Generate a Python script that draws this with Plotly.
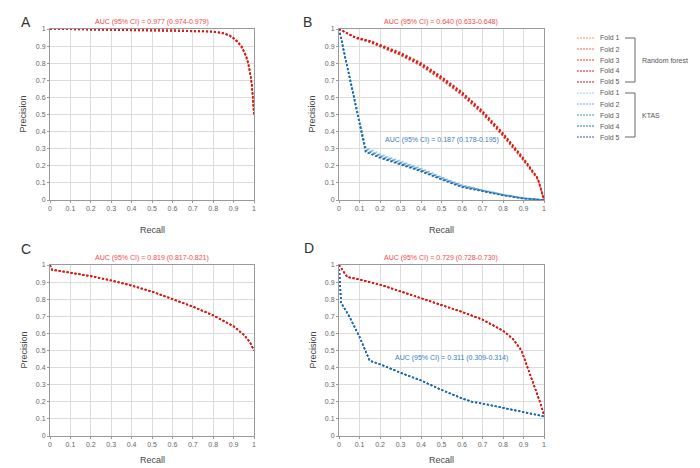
import plotly.graph_objects as go

# The page body has an 8px default margin; the figure is sized/offset to fit the 700x468 window.
OFF = 8
W, H = 700 - OFF, 468 - OFF
FONT = "Liberation Sans, Arial, sans-serif"

# ---------------- data ----------------
FOLD_LABELS = ["Fold 1", "Fold 2", "Fold 3", "Fold 4", "Fold 5"]
GROUP_LABELS = ["Random forest", "KTAS"]
RF_COLORS = ["#fc9272", "#fb6a4a", "#f03b20", "#e31a1c", "#d7191c"]
KTAS_COLORS = ["#9ecae1", "#6baed6", "#4292c6", "#2b72b8", "#2166ac"]

PANEL_LETTERS = ["A", "B", "C", "D"]
RF_AUC_TEXT = ["AUC (95% CI) = 0.977 (0.974-0.979)",
               "AUC (95% CI) = 0.640 (0.633-0.648)",
               "AUC (95% CI) = 0.819 (0.817-0.821)",
               "AUC (95% CI) = 0.729 (0.728-0.730)"]
KTAS_AUC_TEXT = [None, "AUC (95% CI) = 0.187 (0.178-0.195)",
                 None, "AUC (95% CI) = 0.311 (0.309-0.314)"]
X_TITLE = "Recall"
Y_TITLE = "Precision"

A_RF_RECALL = [0, 0.1, 0.2, 0.3, 0.4, 0.5, 0.6, 0.7, 0.75, 0.8, 0.85, 0.88, 0.9, 0.92, 0.94, 0.96, 0.97, 0.98, 0.99, 0.995, 1.0]
A_RF_PREC = [
    [1, 0.998, 0.997, 0.996, 0.995, 0.994, 0.993, 0.991, 0.989, 0.985, 0.975, 0.962, 0.946, 0.925, 0.895, 0.845, 0.805, 0.750, 0.670, 0.600, 0.5],
    [1, 0.998, 0.997, 0.996, 0.995, 0.994, 0.992, 0.990, 0.988, 0.984, 0.973, 0.960, 0.943, 0.921, 0.890, 0.840, 0.800, 0.745, 0.665, 0.595, 0.5],
    [1, 0.998, 0.997, 0.996, 0.995, 0.994, 0.993, 0.991, 0.989, 0.986, 0.977, 0.964, 0.948, 0.928, 0.899, 0.850, 0.810, 0.755, 0.675, 0.605, 0.5],
    [1, 0.998, 0.997, 0.996, 0.995, 0.993, 0.992, 0.990, 0.988, 0.984, 0.974, 0.961, 0.944, 0.923, 0.892, 0.842, 0.802, 0.748, 0.668, 0.598, 0.5],
    [1, 0.998, 0.997, 0.996, 0.995, 0.994, 0.993, 0.991, 0.989, 0.985, 0.976, 0.963, 0.947, 0.926, 0.897, 0.848, 0.807, 0.752, 0.672, 0.602, 0.5],
]

B_RF_RECALL = [0, 0.08, 0.15, 0.2, 0.3, 0.4, 0.5, 0.6, 0.7, 0.8, 0.9, 0.97, 1.0]
B_RF_PREC = [
    [1, 0.950, 0.928, 0.905, 0.855, 0.795, 0.715, 0.625, 0.515, 0.385, 0.240, 0.125, 0.0],
    [1, 0.947, 0.922, 0.898, 0.846, 0.784, 0.703, 0.612, 0.503, 0.373, 0.230, 0.118, 0.0],
    [1, 0.952, 0.932, 0.910, 0.862, 0.802, 0.722, 0.632, 0.522, 0.392, 0.246, 0.128, 0.0],
    [1, 0.948, 0.925, 0.901, 0.850, 0.789, 0.708, 0.618, 0.508, 0.378, 0.234, 0.121, 0.0],
    [1, 0.951, 0.930, 0.907, 0.858, 0.798, 0.718, 0.628, 0.518, 0.388, 0.242, 0.126, 0.0],
]
B_KTAS_RECALL = [0, 0.13, 0.2, 0.3, 0.4, 0.5, 0.6, 0.7, 0.8, 0.9, 1.0]
B_KTAS_PREC = [
    [1, 0.310, 0.270, 0.228, 0.186, 0.135, 0.088, 0.060, 0.033, 0.012, 0.0],
    [1, 0.300, 0.262, 0.221, 0.180, 0.130, 0.084, 0.057, 0.031, 0.011, 0.0],
    [1, 0.292, 0.256, 0.216, 0.175, 0.126, 0.081, 0.055, 0.030, 0.010, 0.0],
    [1, 0.285, 0.250, 0.211, 0.171, 0.122, 0.078, 0.053, 0.028, 0.009, 0.0],
    [1, 0.280, 0.246, 0.207, 0.167, 0.119, 0.075, 0.051, 0.027, 0.008, 0.0],
]

C_RF_RECALL = [0, 0.01, 0.05, 0.1, 0.2, 0.3, 0.4, 0.5, 0.6, 0.7, 0.8, 0.9, 0.95, 0.98, 1.0]
C_RF_PREC = [
    [1, 0.972, 0.965, 0.955, 0.935, 0.910, 0.880, 0.845, 0.802, 0.757, 0.706, 0.642, 0.592, 0.550, 0.5],
    [1, 0.970, 0.964, 0.954, 0.933, 0.908, 0.878, 0.843, 0.800, 0.755, 0.704, 0.640, 0.590, 0.548, 0.5],
    [1, 0.973, 0.966, 0.956, 0.936, 0.911, 0.881, 0.846, 0.803, 0.758, 0.707, 0.643, 0.593, 0.551, 0.5],
    [1, 0.971, 0.965, 0.955, 0.934, 0.909, 0.879, 0.844, 0.801, 0.756, 0.705, 0.641, 0.591, 0.549, 0.5],
    [1, 0.972, 0.965, 0.955, 0.935, 0.910, 0.880, 0.845, 0.802, 0.757, 0.706, 0.642, 0.592, 0.550, 0.5],
]

D_RF_RECALL = [0, 0.04, 0.1, 0.2, 0.3, 0.4, 0.5, 0.6, 0.7, 0.8, 0.85, 0.89, 0.92, 0.95, 0.98, 1.0]
D_RF_PREC = [
    [1, 0.930, 0.915, 0.885, 0.846, 0.806, 0.766, 0.726, 0.681, 0.616, 0.566, 0.500, 0.400, 0.300, 0.200, 0.120],
    [1, 0.929, 0.914, 0.884, 0.845, 0.805, 0.765, 0.725, 0.680, 0.615, 0.565, 0.499, 0.399, 0.299, 0.199, 0.119],
    [1, 0.931, 0.916, 0.886, 0.847, 0.807, 0.767, 0.727, 0.682, 0.617, 0.567, 0.501, 0.401, 0.301, 0.201, 0.121],
    [1, 0.930, 0.915, 0.885, 0.845, 0.805, 0.765, 0.725, 0.680, 0.615, 0.565, 0.500, 0.400, 0.300, 0.200, 0.120],
    [1, 0.930, 0.915, 0.885, 0.846, 0.806, 0.766, 0.726, 0.681, 0.616, 0.566, 0.500, 0.400, 0.300, 0.200, 0.120],
]
D_KTAS_RECALL = [0, 0.005, 0.01, 0.05, 0.1, 0.15, 0.2, 0.3, 0.4, 0.5, 0.6, 0.65, 0.7, 0.8, 0.9, 1.0]
D_KTAS_PREC = [
    [1, 0.850, 0.782, 0.700, 0.582, 0.442, 0.421, 0.371, 0.326, 0.271, 0.221, 0.201, 0.191, 0.166, 0.141, 0.116],
    [1, 0.848, 0.780, 0.698, 0.580, 0.440, 0.420, 0.370, 0.325, 0.270, 0.220, 0.200, 0.190, 0.165, 0.140, 0.115],
    [1, 0.850, 0.780, 0.700, 0.580, 0.440, 0.420, 0.370, 0.325, 0.270, 0.220, 0.200, 0.190, 0.165, 0.140, 0.115],
    [1, 0.852, 0.779, 0.699, 0.579, 0.439, 0.419, 0.369, 0.324, 0.269, 0.219, 0.199, 0.189, 0.164, 0.139, 0.114],
    [1, 0.850, 0.780, 0.700, 0.580, 0.440, 0.420, 0.370, 0.325, 0.270, 0.220, 0.200, 0.190, 0.165, 0.140, 0.115],
]

TICK_VALS = [0, 0.1, 0.2, 0.3, 0.4, 0.5, 0.6, 0.7, 0.8, 0.9, 1]
TICK_TEXT = ["0", "0.1", "0.2", "0.3", "0.4", "0.5", "0.6", "0.7", "0.8", "0.9", "1"]

# ---------------- layout geometry (window pixels) ----------------
def px_x(p):
    return (p - OFF) / W

def px_y(p):
    return 1 - (p - OFF) / H

PANELS = [
    dict(x0=50, x1=254, y0=29, y1=200, lx=26, ly=22, tgap=30),
    dict(x0=339, x1=544, y0=29, y1=200, lx=307, ly=22, tgap=30),
    dict(x0=50, x1=254, y0=265, y1=436, lx=26, ly=249, tgap=24),
    dict(x0=339, x1=544, y0=265, y1=436, lx=309, ly=248, tgap=24),
]
RF_DATA = [(A_RF_RECALL, A_RF_PREC), (B_RF_RECALL, B_RF_PREC),
           (C_RF_RECALL, C_RF_PREC), (D_RF_RECALL, D_RF_PREC)]
KTAS_DATA = [None, (B_KTAS_RECALL, B_KTAS_PREC), None, (D_KTAS_RECALL, D_KTAS_PREC)]
KTAS_LABEL_POS = [None, (0.5, 0.35), None, (0.55, 0.454)]

DASH = "2px,2px"
LW = 1.5
RED_TXT = "#f24a4a"
BLUE_TXT = "#3a7cc0"

fig = go.Figure()
layout = dict(width=W, height=H, margin=dict(l=0, r=0, t=0, b=0),
              paper_bgcolor="white", plot_bgcolor="white", showlegend=False,
              font=dict(family=FONT, color="#555"))
annotations = []
shapes = []

for i, p in enumerate(PANELS):
    sfx = "" if i == 0 else str(i + 1)
    xa, ya = "x" + sfx, "y" + sfx
    axis_common = dict(range=[0, 1], tickmode="array", tickvals=TICK_VALS, ticktext=TICK_TEXT,
                       showline=True, mirror=True, linecolor="#999", linewidth=1,
                       showgrid=True, gridcolor="#dcdcdc", gridwidth=1, zeroline=False,
                       ticks="outside", ticklen=2, tickcolor="#999", automargin=False,
                       tickfont=dict(size=7, color="#666", family=FONT))
    layout["xaxis" + sfx] = dict(axis_common, domain=[px_x(p["x0"]), px_x(p["x1"])], anchor=ya)
    layout["yaxis" + sfx] = dict(axis_common, domain=[px_y(p["y1"]), px_y(p["y0"])], anchor=xa)
    # KTAS underneath, RF on top
    if KTAS_DATA[i] is not None:
        rec, precs = KTAS_DATA[i]
        for f, pr in enumerate(precs):
            fig.add_trace(go.Scatter(x=rec, y=pr, mode="lines", xaxis=xa, yaxis=ya,
                                     line=dict(color=KTAS_COLORS[f], width=LW, dash=DASH),
                                     name="KTAS " + FOLD_LABELS[f]))
        kx, ky = KTAS_LABEL_POS[i]
        annotations.append(dict(text=KTAS_AUC_TEXT[i], xref=xa, yref=ya, x=kx, y=ky,
                                xanchor="center", yanchor="middle", showarrow=False,
                                font=dict(size=7, color=BLUE_TXT, family=FONT)))
    rec, precs = RF_DATA[i]
    for f, pr in enumerate(precs):
        fig.add_trace(go.Scatter(x=rec, y=pr, mode="lines", xaxis=xa, yaxis=ya,
                                 line=dict(color=RF_COLORS[f], width=LW, dash=DASH),
                                 name="RF " + FOLD_LABELS[f]))
    # panel letter
    annotations.append(dict(text=PANEL_LETTERS[i], xref="paper", yref="paper",
                            x=px_x(p["lx"]), y=px_y(p["ly"]),
                            xanchor="center", yanchor="middle", showarrow=False,
                            font=dict(size=14, color="#333", family=FONT)))
    # RF AUC
    annotations.append(dict(text=RF_AUC_TEXT[i], xref="paper", yref="paper",
                            x=px_x((p["x0"] + p["x1"]) / 2), y=px_y(p["y0"] - 7),
                            xanchor="center", yanchor="middle", showarrow=False,
                            font=dict(size=7, color=RED_TXT, family=FONT)))
    # axis titles
    annotations.append(dict(text=X_TITLE, xref="paper", yref="paper",
                            x=px_x((p["x0"] + p["x1"]) / 2), y=px_y(p["y1"] + p["tgap"]),
                            xanchor="center", yanchor="middle", showarrow=False,
                            font=dict(size=9, color="#444", family=FONT)))
    annotations.append(dict(text=Y_TITLE, xref="paper", yref="paper", textangle=-90,
                            x=px_x(p["x0"] - 27), y=px_y((p["y0"] + p["y1"]) / 2),
                            xanchor="center", yanchor="middle", showarrow=False,
                            font=dict(size=9, color="#444", family=FONT)))

# ---------------- custom legend ----------------
LEG_X0, LEG_X1, LEG_TX = 577, 594, 598
LEG_Y0, LEG_DY = 38, 11
all_colors = RF_COLORS + KTAS_COLORS
for k in range(10):
    yy = LEG_Y0 + k * LEG_DY
    shapes.append(dict(type="line", xref="paper", yref="paper",
                       x0=px_x(LEG_X0), x1=px_x(LEG_X1), y0=px_y(yy), y1=px_y(yy),
                       line=dict(color=all_colors[k], width=1, dash="2px,1px")))
    annotations.append(dict(text=FOLD_LABELS[k % 5], xref="paper", yref="paper",
                            x=px_x(LEG_TX), y=px_y(yy), xanchor="left", yanchor="middle",
                            showarrow=False, font=dict(size=7, color="#555", family=FONT)))
BR_X0, BR_X1 = 625, 635
for g in range(2):
    ytop = LEG_Y0 + g * 5 * LEG_DY
    ybot = ytop + 4 * LEG_DY
    for (xa0, ya0, xa1, ya1) in [(BR_X0, ytop, BR_X1, ytop), (BR_X1, ytop, BR_X1, ybot), (BR_X0, ybot, BR_X1, ybot)]:
        shapes.append(dict(type="line", xref="paper", yref="paper",
                           x0=px_x(xa0), x1=px_x(xa1), y0=px_y(ya0), y1=px_y(ya1),
                           line=dict(color="#666", width=1)))
    annotations.append(dict(text=GROUP_LABELS[g], xref="paper", yref="paper",
                            x=px_x(BR_X1 + 5), y=px_y((ytop + ybot) / 2), xanchor="left",
                            yanchor="middle", showarrow=False,
                            font=dict(size=7, color="#555", family=FONT)))

layout["annotations"] = annotations
layout["shapes"] = shapes
fig.update_layout(**layout)
fig.write_html("out.html")
